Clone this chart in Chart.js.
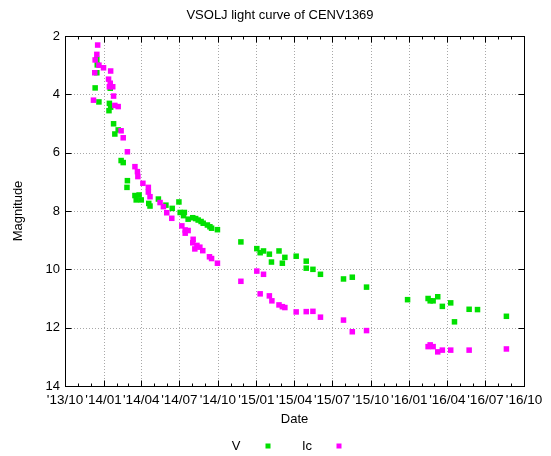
<!DOCTYPE html>
<html>
<head>
<meta charset="utf-8">
<script src="https://cdn.jsdelivr.net/npm/chart.js@4"></script>
<style>
  body { margin: 0; background: #fff; }
  canvas { display: block; }
</style>
</head>
<body>
<canvas id="lc" width="551" height="456"></canvas>
<script>
// x values are days since 2013-10-01
const vDay = [76, 77, 76, 72, 108, 81, 106, 109, 105, 116, 127, 119, 134, 139, 149, 148, 167, 177, 170, 182,
  200, 203, 223, 241, 256, 272, 275, 285, 283, 294, 305, 312, 318, 325, 330, 340, 346, 350, 364, 420,
  458, 466, 474, 488, 493, 511, 525, 519, 552, 576, 576, 592, 610, 665, 686, 720, 818, 867, 872, 879,
  890, 901, 921, 930, 965, 985, 1054];
const vMag = [2.80, 2.99, 3.26, 3.78, 3.79, 4.26, 4.31, 4.44, 4.56, 5.01, 5.22, 5.36, 6.27, 6.34, 6.96, 7.19, 7.47, 7.45, 7.62, 7.62,
  7.74, 7.83, 7.59, 7.80, 7.91, 7.69, 8.05, 8.05, 8.16, 8.28, 8.23, 8.26, 8.31, 8.36, 8.42, 8.48, 8.54, 8.59, 8.64, 9.06,
  9.29, 9.43, 9.37, 9.48, 9.75, 9.37, 9.59, 9.79, 9.55, 9.72, 9.96, 10.00, 10.17, 10.33, 10.27, 10.61, 11.04, 11.00, 11.08, 11.08,
  10.94, 11.27, 11.15, 11.80, 11.37, 11.38, 11.61];

const icDay = [78, 76, 72, 81, 92, 71, 109, 104, 108, 114, 106, 116, 68, 119, 127, 134, 139, 149, 167, 173,
  174, 186, 199, 199, 203, 227, 235, 243, 255, 279, 287, 294, 287, 306, 305, 315, 310, 322, 329, 345,
  350, 364, 420, 458, 474, 466, 488, 494, 511, 519, 525, 552, 576, 592, 610, 665, 686, 720, 867, 872,
  879, 890, 901, 921, 965, 1054];
const icMag = [2.31, 2.63, 2.82, 3.00, 3.09, 3.26, 3.20, 3.48, 3.62, 3.74, 3.74, 4.06, 4.20, 4.38, 4.42, 5.25, 5.49, 5.97, 6.48, 6.65,
  6.82, 7.05, 7.19, 7.35, 7.51, 7.71, 7.85, 8.06, 8.25, 8.51, 8.65, 8.67, 8.76, 8.97, 9.09, 9.18, 9.30, 9.24, 9.36, 9.57,
  9.63, 9.79, 10.41, 10.06, 10.17, 10.84, 10.91, 11.08, 11.22, 11.28, 11.31, 11.46, 11.45, 11.44, 11.64, 11.74, 12.14, 12.10, 12.65, 12.59,
  12.65, 12.83, 12.77, 12.77, 12.77, 12.73];

const tickLabels = ["'13/10", "'14/01", "'14/04", "'14/07", "'14/10", "'15/01", "'15/04",
  "'15/07", "'15/10", "'16/01", "'16/04", "'16/07", "'16/10"];
const magTicks = [2, 4, 6, 8, 10, 12, 14];

const FONT = 'Liberation Sans, Arial, Helvetica, sans-serif';
const DAY = 86400000;
const epoch = Date.UTC(2013, 9, 1);

// '13/10 -> days since epoch
const labelToDay = (s) => {
  const yy = 2000 + parseInt(s.slice(1, 3), 10);
  const mm = parseInt(s.slice(4, 6), 10);
  return Math.round((Date.UTC(yy, mm - 1, 1) - epoch) / DAY);
};
const tickDays = tickLabels.map(labelToDay);
const monthDays = [];
for (let m = 0; m <= 36; m++) monthDays.push(Math.round((Date.UTC(2013, 9 + m, 1) - epoch) / DAY));

const toPoints = (xs, ys) => xs.map((x, i) => ({ x, y: ys[i] }));

const framePlugin = {
  id: 'frame',
  beforeDatasetsDraw(chart) {
    const { ctx, chartArea: a, scales } = chart;
    ctx.save();
    ctx.strokeStyle = '#a8a8a8';
    ctx.lineWidth = 1;
    ctx.setLineDash([1, 2]);
    tickDays.slice(1, -1).forEach((d) => {
      const x = Math.round(scales.x.getPixelForValue(d)) + 0.5;
      ctx.beginPath(); ctx.moveTo(x, a.top); ctx.lineTo(x, a.bottom); ctx.stroke();
    });
    magTicks.slice(1, -1).forEach((m) => {
      const y = Math.round(scales.y.getPixelForValue(m)) + 0.5;
      ctx.beginPath(); ctx.moveTo(a.left, y); ctx.lineTo(a.right, y); ctx.stroke();
    });
    ctx.restore();
  },
  afterDatasetsDraw(chart) {
    const { ctx, chartArea: a, scales } = chart;
    ctx.save();
    ctx.strokeStyle = '#000';
    ctx.lineWidth = 1;
    ctx.setLineDash([]);
    const L = Math.round(a.left) + 0.5, R = Math.round(a.right) + 0.5;
    const T = Math.round(a.top) + 0.5, B = Math.round(a.bottom) + 0.5;
    ctx.strokeRect(L, T, R - L, B - T);
    ctx.beginPath();
    monthDays.forEach((d, i) => {
      const x = Math.round(scales.x.getPixelForValue(d)) + 0.5;
      const len = i % 3 === 0 ? 6 : 3;
      ctx.moveTo(x, B); ctx.lineTo(x, B - len);
      ctx.moveTo(x, T); ctx.lineTo(x, T + len);
    });
    magTicks.forEach((m) => {
      const y = Math.round(scales.y.getPixelForValue(m)) + 0.5;
      ctx.moveTo(L, y); ctx.lineTo(L + 6, y);
      ctx.moveTo(R, y); ctx.lineTo(R - 6, y);
    });
    ctx.stroke();

    ctx.fillStyle = '#000';
    ctx.font = '13px ' + FONT;
    ctx.textAlign = 'center';
    ctx.textBaseline = 'middle';
    ctx.fillText('VSOLJ light curve of CENV1369', 280, 15);
    ctx.fillText('Date', (a.left + a.right) / 2, 419);
    ctx.save();
    ctx.translate(18, (a.top + a.bottom) / 2);
    ctx.rotate(-Math.PI / 2);
    ctx.fillText('Magnitude', 0, 0);
    ctx.restore();

    // key: text then sample
    const key = [[236, 268], [307, 339]];
    chart.data.datasets.forEach((ds, i) => {
      ctx.fillStyle = '#000';
      ctx.fillText(ds.label, key[i][0], 446);
      ctx.fillStyle = ds.backgroundColor;
      ctx.fillRect(key[i][1] - 2.5, 446 - 2.5, 5, 5);
    });
    ctx.restore();
  }
};

new Chart(document.getElementById('lc'), {
  type: 'scatter',
  data: {
    datasets: [
      {
        label: 'V',
        data: toPoints(vDay, vMag),
        backgroundColor: '#00e000',
        borderWidth: 0,
        pointStyle: 'rect',
        pointRadius: 3.9,
        order: 1,
      },
      {
        label: 'Ic',
        data: toPoints(icDay, icMag),
        backgroundColor: '#ff00ff',
        borderWidth: 0,
        pointStyle: 'rect',
        pointRadius: 3.9,
        order: 0,
      },
    ],
  },
  options: {
    responsive: false,
    animation: false,
    layout: { padding: { top: 36, right: 27, left: 0, bottom: 0 } },
    plugins: {
      legend: { display: false },
      tooltip: { enabled: false },
    },
    scales: {
      x: {
        type: 'linear',
        min: 0,
        max: tickDays[tickDays.length - 1],
        grid: { display: false, drawTicks: false },
        border: { display: false },
        afterBuildTicks: (s) => { s.ticks = tickDays.map((v) => ({ value: v })); },
        afterFit: (s) => { s.height = 70; },
        ticks: {
          autoSkip: false,
          maxRotation: 0,
          padding: 6,
          color: '#000',
          font: { family: FONT, size: 13.5 },
          callback: (v, i) => tickLabels[i],
        },
      },
      y: {
        min: magTicks[0],
        max: magTicks[magTicks.length - 1],
        reverse: true,
        grid: { display: false, drawTicks: false },
        border: { display: false },
        afterBuildTicks: (s) => { s.ticks = magTicks.map((v) => ({ value: v })); },
        afterFit: (s) => { s.width = 65; },
        ticks: {
          padding: 5,
          color: '#000',
          font: { family: FONT, size: 13 },
        },
      },
    },
  },
  plugins: [framePlugin],
});
</script>
</body>
</html>
